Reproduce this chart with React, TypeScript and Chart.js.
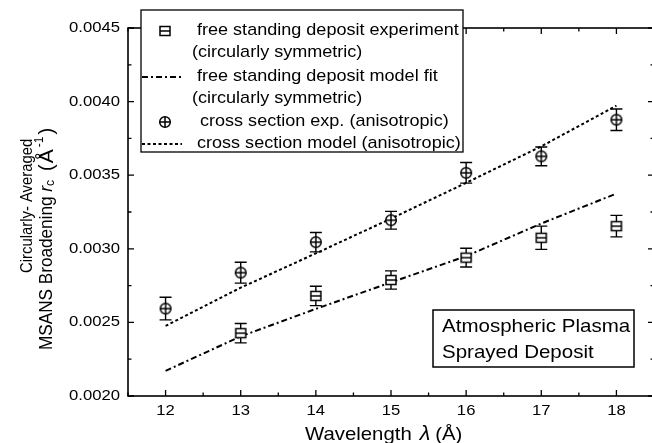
import React, { useEffect, useRef } from 'react';
import { Chart, registerables } from 'chart.js';

Chart.register(...registerables);

// ---------- data ----------
const wavelengths = [12, 13, 14, 15, 16, 17, 18];
const freeExp = [null, 0.002427, 0.00268, 0.002788, 0.00294, 0.003075, 0.003154];
const freeExpErr = [null, 0.000066, 0.000066, 0.000062, 0.000064, 0.000079, 0.000073];
const freeModel = [0.002171, 0.002405, 0.002592, 0.002772, 0.00295, 0.003172, 0.003375];
const crossExp = [0.002594, 0.002838, 0.003045, 0.003194, 0.003516, 0.003628, 0.003877];
const crossExpErr = [0.000077, 0.000071, 0.000066, 0.00006, 0.00007, 0.000064, 0.000073];
const crossModel = [0.002476, 0.002736, 0.002969, 0.003205, 0.003448, 0.003696, 0.003972];

const xTickValues = [12, 13, 14, 15, 16, 17, 18];
const yTickValues = [0.002, 0.0025, 0.003, 0.0035, 0.004, 0.0045];

const legendLines = [
  ['free standing deposit experiment', '(circularly symmetric)'],
  ['free standing deposit model fit', '(circularly symmetric)'],
  ['cross section exp. (anisotropic)'],
  ['cross section model (anisotropic)'],
];
const boxLines = ['Atmospheric Plasma', 'Sprayed Deposit'];
const xTitle = ['Wavelength', 'λ', '(Å)'];
const yTitle1 = 'Circularly- Averaged';

const FONT = '"Liberation Sans", Arial, Helvetica, sans-serif';
const DASH_DOT = [6, 3, 2, 3];
const DOTTED = [3, 2.5];

function makeSquare(): HTMLCanvasElement {
  const c = document.createElement('canvas');
  c.width = 14; c.height = 14;
  const g = c.getContext('2d')!;
  g.fillStyle = '#fff';
  g.strokeStyle = '#000';
  g.lineWidth = 1.5;
  g.fillRect(2, 2.5, 10, 9);
  g.strokeRect(2, 2.5, 10, 9);
  g.beginPath(); g.moveTo(2, 7); g.lineTo(12, 7); g.stroke();
  return c;
}
function makeCircle(): HTMLCanvasElement {
  const c = document.createElement('canvas');
  c.width = 14; c.height = 14;
  const g = c.getContext('2d')!;
  g.fillStyle = '#fff';
  g.strokeStyle = '#000';
  g.lineWidth = 1.5;
  g.beginPath(); g.arc(7, 7, 5.3, 0, Math.PI * 2); g.fill(); g.stroke();
  g.beginPath(); g.moveTo(1.7, 7); g.lineTo(12.3, 7); g.moveTo(7, 1.7); g.lineTo(7, 12.3); g.stroke();
  return c;
}

function txt(ctx: CanvasRenderingContext2D, s: string, x: number, y: number, size: number,
  align: CanvasTextAlign = 'left', sx = 1, style = '') {
  ctx.save();
  ctx.font = `${style} ${size}px ${FONT}`;
  ctx.textBaseline = 'middle';
  ctx.textAlign = align;
  ctx.fillStyle = '#000';
  ctx.translate(x, y);
  ctx.scale(sx, 1);
  ctx.fillText(s, 0, 0);
  ctx.restore();
}
function measure(ctx: CanvasRenderingContext2D, s: string, size: number, style = '') {
  ctx.save();
  ctx.font = `${style} ${size}px ${FONT}`;
  const w = ctx.measureText(s).width;
  ctx.restore();
  return w;
}

export default function App() {
  const ref = useRef<HTMLCanvasElement | null>(null);

  useEffect(() => {
    if (!ref.current) return;
    const sq = makeSquare();
    const ci = makeCircle();

    const pts = (arr: (number | null)[]) =>
      wavelengths.map((x, i) => ({ x, y: arr[i] })).filter((p) => p.y !== null) as { x: number; y: number }[];

    const errorBars = {
      id: 'errorBars',
      beforeDatasetsDraw(chart: any) {
        const ctx = chart.ctx as CanvasRenderingContext2D;
        const xs = chart.scales.x, ys = chart.scales.y;
        ctx.save();
        ctx.strokeStyle = '#000';
        ctx.lineWidth = 1.4;
        const draw = (vals: (number | null)[], errs: (number | null)[]) => {
          vals.forEach((v, i) => {
            if (v === null || errs[i] === null) return;
            const px = xs.getPixelForValue(wavelengths[i]);
            const top = ys.getPixelForValue(v + (errs[i] as number));
            const bot = ys.getPixelForValue(v - (errs[i] as number));
            ctx.beginPath();
            ctx.moveTo(px, top); ctx.lineTo(px, bot);
            ctx.moveTo(px - 6, top); ctx.lineTo(px + 6, top);
            ctx.moveTo(px - 6, bot); ctx.lineTo(px + 6, bot);
            ctx.stroke();
          });
        };
        draw(freeExp, freeExpErr);
        draw(crossExp, crossExpErr);
        ctx.restore();
      },
    };

    const frame = {
      id: 'frame',
      afterDatasetsDraw(chart: any) {
        const ctx = chart.ctx as CanvasRenderingContext2D;
        const a = chart.chartArea;
        const xs = chart.scales.x, ys = chart.scales.y;
        ctx.save();
        ctx.strokeStyle = '#000';
        ctx.lineWidth = 1.6;
        ctx.strokeRect(a.left, a.top, a.right - a.left, a.bottom - a.top);
        ctx.lineWidth = 1.3;
        ctx.beginPath();
        xs.ticks.forEach((t: any) => {
          const major = Math.abs(t.value - Math.round(t.value)) < 1e-6;
          const len = major ? 6 : 3.5;
          const px = xs.getPixelForValue(t.value);
          ctx.moveTo(px, a.bottom); ctx.lineTo(px, a.bottom - len);
          ctx.moveTo(px, a.top); ctx.lineTo(px, a.top + len);
        });
        ys.ticks.forEach((t: any) => {
          const q = t.value / 0.0005;
          const major = Math.abs(q - Math.round(q)) < 1e-6;
          const len = major ? 6 : 3.5;
          const py = ys.getPixelForValue(t.value);
          ctx.moveTo(a.left, py); ctx.lineTo(a.left + len, py);
          ctx.moveTo(a.right, py); ctx.lineTo(a.right - len, py);
        });
        ctx.stroke();
        ctx.restore();

        xTickValues.forEach((v) => txt(ctx, String(v), xs.getPixelForValue(v), a.bottom + 15, 14.5, 'center', 1.15));
        yTickValues.forEach((v) => txt(ctx, v.toFixed(4), a.left - 8, ys.getPixelForValue(v), 14.5, 'right', 1.15));

        // x title
        let x = 305;
        const ty = 435;
        const s1 = 18.5, sx1 = 1.1;
        txt(ctx, xTitle[0], x, ty, s1, 'left', sx1);
        x += measure(ctx, xTitle[0], s1) * sx1 + 8;
        txt(ctx, xTitle[1], x, ty, 19.5, 'left', sx1, 'italic');
        x += measure(ctx, xTitle[1], 19.5, 'italic') * sx1 + 5;
        txt(ctx, xTitle[2], x, ty, s1, 'left', sx1);

        // y title (rotated)
        ctx.save();
        ctx.translate(27, 273);
        ctx.rotate(-Math.PI / 2);
        txt(ctx, yTitle1, 0, 0, 16.5, 'left', 0.9);
        ctx.restore();

        ctx.save();
        ctx.translate(47, 350);
        ctx.rotate(-Math.PI / 2);
        const segs: { t: string; size: number; style?: string; dy?: number; sx?: number; gap?: number }[] = [
          { t: 'MSANS Broadening ', size: 17.5, sx: 0.98 },
          { t: 'r', size: 17.5, style: 'italic' },
          { t: 'c', size: 12, dy: 4 },
          { t: '(', size: 20, gap: 9 },
          { t: 'Å', size: 21, gap: 1 },
          { t: '-1', size: 12, dy: -7, gap: 2 },
          { t: ')', size: 20, gap: 2 },
        ];
        let ox = 0;
        segs.forEach((sg) => {
          const sx = sg.sx || 1;
          ox += sg.gap || 0;
          txt(ctx, sg.t, ox, sg.dy || 0, sg.size, 'left', sx, sg.style || '');
          ox += measure(ctx, sg.t, sg.size, sg.style || '') * sx;
        });
        ctx.restore();
      },
    };

    const overlays = {
      id: 'overlays',
      afterDraw(chart: any) {
        const ctx = chart.ctx as CanvasRenderingContext2D;
        // legend
        ctx.save();
        ctx.fillStyle = '#fff';
        ctx.strokeStyle = '#000';
        ctx.lineWidth = 1.3;
        ctx.fillRect(141, 10, 322, 142);
        ctx.strokeRect(141, 10, 322, 142);
        ctx.restore();
        const rows = [31, 53, 77, 99, 122, 144];
        const fs = 15.7, sx = 1.15;
        // entry 1
        ctx.drawImage(sq, 165 - 7, rows[0] - 7);
        txt(ctx, legendLines[0][0], 197, rows[0], fs, 'left', sx);
        txt(ctx, legendLines[0][1], 192, rows[1], fs, 'left', sx);
        // entry 2
        ctx.save();
        ctx.strokeStyle = '#000'; ctx.lineWidth = 2; ctx.setLineDash(DASH_DOT);
        ctx.beginPath(); ctx.moveTo(142, rows[2]); ctx.lineTo(182, rows[2]); ctx.stroke();
        ctx.restore();
        txt(ctx, legendLines[1][0], 197, rows[2], fs, 'left', sx);
        txt(ctx, legendLines[1][1], 192, rows[3], fs, 'left', sx);
        // entry 3
        ctx.drawImage(ci, 165 - 7, rows[4] - 7);
        txt(ctx, legendLines[2][0], 200, rows[4], fs, 'left', sx);
        // entry 4
        ctx.save();
        ctx.strokeStyle = '#000'; ctx.lineWidth = 2; ctx.setLineDash(DOTTED);
        ctx.beginPath(); ctx.moveTo(142, rows[5]); ctx.lineTo(182, rows[5]); ctx.stroke();
        ctx.restore();
        txt(ctx, legendLines[3][0], 197, rows[5], fs, 'left', sx);

        // annotation box
        ctx.save();
        ctx.fillStyle = '#fff';
        ctx.strokeStyle = '#000';
        ctx.lineWidth = 1.5;
        ctx.fillRect(433, 310, 201, 57);
        ctx.strokeRect(433, 310, 201, 57);
        ctx.restore();
        txt(ctx, boxLines[0], 442, 327, 19, 'left', 1.08);
        txt(ctx, boxLines[1], 442, 353, 19, 'left', 1.08);
      },
    };

    const chart = new Chart(ref.current, {
      type: 'line',
      data: {
        datasets: [
          {
            label: legendLines[0].join(' '),
            data: pts(freeExp),
            showLine: false,
            pointStyle: sq as any,
            pointRadius: 7,
            borderColor: '#000',
            backgroundColor: '#fff',
          },
          {
            label: legendLines[1].join(' '),
            data: pts(freeModel),
            borderColor: '#000',
            borderWidth: 2,
            borderDash: DASH_DOT,
            pointRadius: 0,
            tension: 0,
            fill: false,
          },
          {
            label: legendLines[2].join(' '),
            data: pts(crossExp),
            showLine: false,
            pointStyle: ci as any,
            pointRadius: 7,
            borderColor: '#000',
            backgroundColor: '#fff',
          },
          {
            label: legendLines[3].join(' '),
            data: pts(crossModel),
            borderColor: '#000',
            borderWidth: 2,
            borderDash: DOTTED,
            pointRadius: 0,
            tension: 0,
            fill: false,
          },
        ],
      },
      options: {
        responsive: false,
        animation: false,
        devicePixelRatio: 1,
        layout: { padding: { top: 28, right: 5, left: 0, bottom: 0 } },
        plugins: { legend: { display: false }, tooltip: { enabled: false }, title: { display: false } },
        events: [],
        scales: {
          x: {
            type: 'linear',
            min: 11.5,
            max: 18.5,
            ticks: { display: false, stepSize: 0.5 },
            grid: { display: false },
            border: { display: false },
            afterFit: (s: any) => { s.height = 47; },
          },
          y: {
            type: 'linear',
            min: 0.002,
            max: 0.0045,
            ticks: { display: false, stepSize: 0.00025 },
            grid: { display: false },
            border: { display: false },
            afterFit: (s: any) => { s.width = 128; },
          },
        },
      },
      plugins: [errorBars, frame, overlays],
    });
    return () => chart.destroy();
  }, []);

  return (
    <div style={{ position: 'absolute', left: 0, top: 0, width: 652, height: 443, overflow: 'hidden', background: '#fff' }}>
      <canvas ref={ref} width={662} height={443} style={{ display: 'block', width: 662, height: 443 }} />
    </div>
  );
}
